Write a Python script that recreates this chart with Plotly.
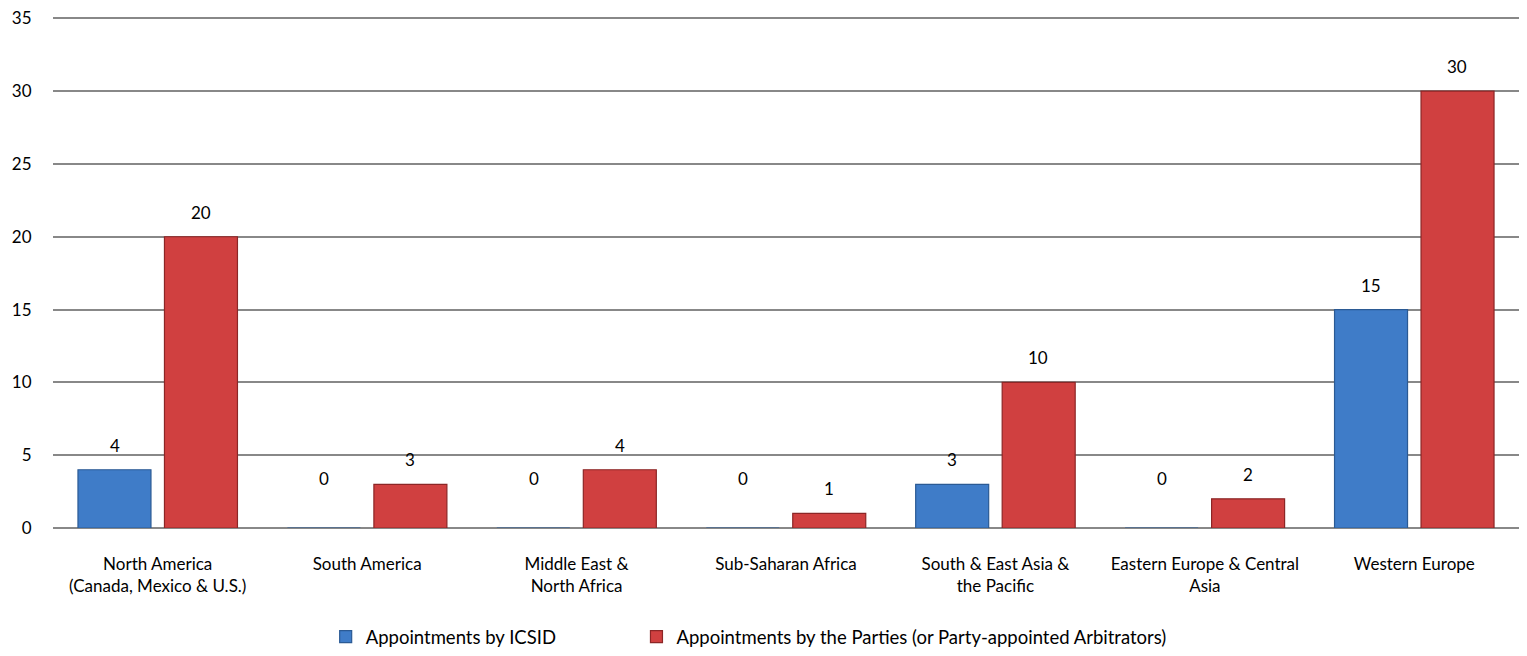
import plotly.graph_objects as go

categories = [
    "North America<br>(Canada, Mexico & U.S.)",
    "South America",
    "Middle East &<br>North Africa",
    "Sub-Saharan Africa",
    "South & East Asia &<br>the Pacific",
    "Eastern Europe & Central<br>Asia",
    "Western Europe",
]
icsid = [4, 0, 0, 0, 3, 0, 15]
parties = [20, 3, 4, 1, 10, 2, 30]
series_names = ["Appointments by ICSID",
                "Appointments by the Parties (or Party-appointed Arbitrators)"]
y_ticks = [0, 5, 10, 15, 20, 25, 30, 35]

BLUE = "#3F7CC8"
BLUE_EDGE = "#2B5A94"
RED = "#D04040"
RED_EDGE = "#8C2626"
FONT = "Lato, Open Sans, sans-serif"

fig = go.Figure()
fig.add_trace(go.Bar(x=categories, y=icsid, name=series_names[0], legend="legend",
                     marker=dict(color=BLUE, line=dict(color=BLUE_EDGE, width=1.2))))
fig.add_trace(go.Bar(x=categories, y=parties, name=series_names[1], legend="legend2",
                     marker=dict(color=RED, line=dict(color=RED_EDGE, width=1.2))))

# data labels
for vals, dx in ((icsid, -43), (parties, 43)):
    for c, v in zip(categories, vals):
        fig.add_annotation(x=c, y=v, text=str(v), showarrow=False,
                           xshift=dx, yshift=(12 if v > 0 else 37),
                           yanchor="bottom",
                           font=dict(family=FONT, size=17, color="#000"))

legend_common = dict(orientation="h", xanchor="left", y=-0.174, yanchor="top",
                     font=dict(family=FONT, size=18.5, color="#000"), itemwidth=30,
                     bgcolor="rgba(0,0,0,0)")

fig.update_layout(
    width=1511, height=648,
    margin=dict(l=45, r=0, t=3, b=127),
    paper_bgcolor="white", plot_bgcolor="white",
    barmode="group", bargap=0.174, bargroupgap=0.156,
    font=dict(family=FONT, color="#000"),
    showlegend=True,
    legend=dict(x=0.186, **legend_common),
    legend2=dict(x=0.398, **legend_common),
)
fig.update_xaxes(showline=False, ticks="", tickfont=dict(family=FONT, size=17, color="#000"),
                 ticklabelstandoff=24)
fig.update_yaxes(range=[0, 35.5], tickvals=y_ticks, showgrid=True, gridcolor="#888888",
                 gridwidth=1.5, zeroline=True, zerolinecolor="#888888", zerolinewidth=1.5,
                 showline=False, ticks="outside", ticklen=17, tickcolor="rgba(0,0,0,0)",
                 ticklabeloverflow="allow",
                 tickfont=dict(family=FONT, size=17, color="#000"))

fig.write_html("out.html")
